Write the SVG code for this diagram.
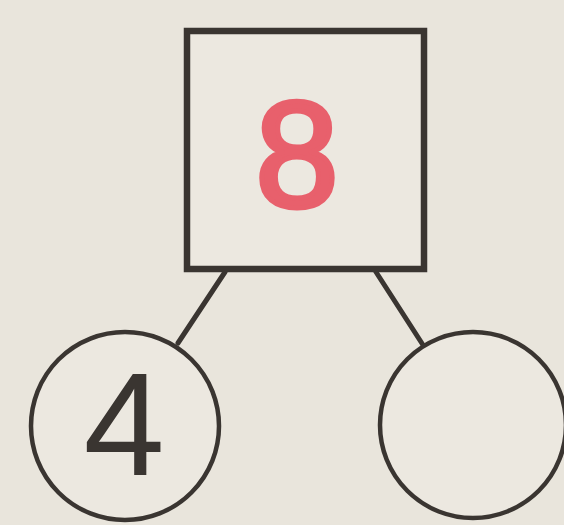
<svg xmlns="http://www.w3.org/2000/svg" width="564" height="525" viewBox="0 0 564 525">
<style>
.edge{stroke:#3a3531;stroke-width:5;stroke-linecap:round;fill:none}
.box{fill:#ece8e0;stroke:#3a3531;stroke-width:6.5}
.circ{fill:#ece8e0;stroke:#3a3531;stroke-width:4.5}
.num{font-family:"Liberation Sans",Arial,sans-serif;text-anchor:middle}
</style>
<rect width="564" height="525" fill="#e9e5dc"/>
<g id="connectors">
<line class="edge" x1="225" y1="272" x2="178" y2="343"/>
<line class="edge" x1="376" y1="272" x2="423" y2="345"/>
</g>
<g id="node-8">
<rect class="box" x="187" y="31" width="237" height="238"/>
<text class="num" x="297" y="207" font-size="150" fill="#e8606c" stroke="#e8606c" stroke-width="5" stroke-linejoin="round">8</text>
</g>
<g id="node-4">
<circle class="circ" cx="125" cy="426" r="94"/>
<text class="num" x="124" y="475" font-size="146" fill="#3a3531">4</text>
</g>
<g id="node-empty">
<circle class="circ" cx="473" cy="425" r="93"/>
</g>
</svg>
